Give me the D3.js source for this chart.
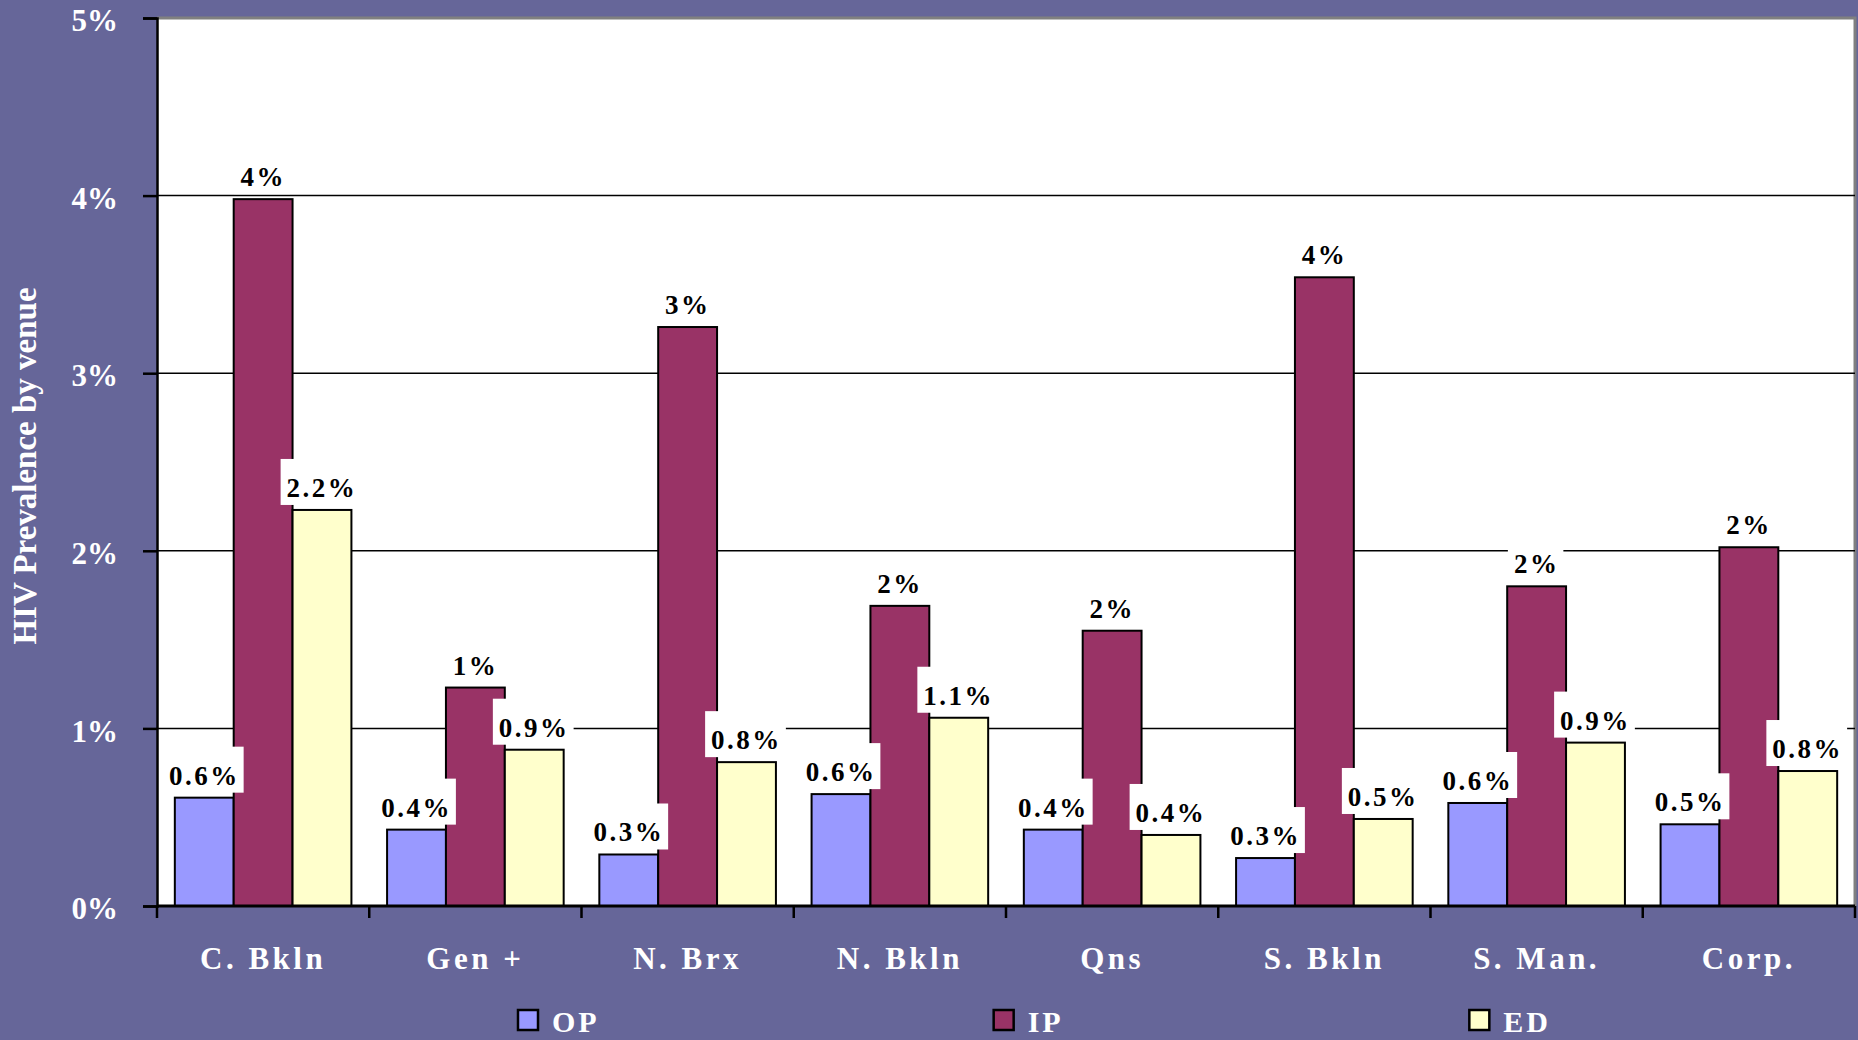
<!DOCTYPE html>
<html>
<head>
<meta charset="utf-8">
<script src="https://cdn.jsdelivr.net/npm/d3@7"></script>
<style>
  html, body { margin: 0; padding: 0; background: #666699; }
  svg { display: block; }
  text { font-family: "Liberation Serif", "Times New Roman", serif; font-weight: bold; }
</style>
</head>
<body>
<svg id="chart" width="1858" height="1040"></svg>
<script>
// data (HIV prevalence, fraction)
const categories = ["C. Bkln", "Gen +", "N. Brx", "N. Bkln", "Qns", "S. Bkln", "S. Man.", "Corp."];
const seriesNames = ["OP", "IP", "ED"];
const opValues = [0.0061, 0.0043, 0.0029, 0.0063, 0.0043, 0.0027, 0.0058, 0.0046];
const ipValues = [0.0398, 0.0123, 0.0326, 0.0169, 0.0155, 0.0354, 0.0180, 0.0202];
const edValues = [0.0223, 0.0088, 0.0081, 0.0106, 0.0040, 0.0049, 0.0092, 0.0076];
const yTicks = [0, 0.01, 0.02, 0.03, 0.04, 0.05];

const colors = { OP: "#9999ff", IP: "#993366", ED: "#ffffcc" };
// IP labels are rounded to whole percent, others to one decimal
const labelFormat = { OP: d3.format(".1%"), IP: d3.format(".0%"), ED: d3.format(".1%") };

const rows = categories.map((c, i) => ({
  category: c,
  values: [
    { key: "OP", value: opValues[i] },
    { key: "IP", value: ipValues[i] },
    { key: "ED", value: edValues[i] }
  ]
}));

const svg = d3.select("#chart");
const margin = { top: 18, right: 3, bottom: 134, left: 157 };
const W = +svg.attr("width"), H = +svg.attr("height");
const width = W - margin.left - margin.right;
const height = H - margin.top - margin.bottom;
const g = svg.append("g").attr("transform", `translate(${margin.left},${margin.top})`);

const x0 = d3.scaleBand().domain(categories).range([0, width]).padding(0);
const inset = x0.bandwidth() * 0.084;
const x1 = d3.scaleBand().domain(seriesNames).range([inset, x0.bandwidth() - inset]).padding(0);
const y = d3.scaleLinear().domain([0, 0.05]).range([height, 0]);

// plot background
g.append("rect")
  .attr("width", width).attr("height", height)
  .attr("fill", "#ffffff");

// top / right border (grey)
g.append("path")
  .attr("d", `M0,${y(0.05)}H${width}V${height}`)
  .attr("fill", "none").attr("stroke", "#808080").attr("stroke-width", 3);

// gridlines
g.selectAll(".grid")
  .data(yTicks.filter(t => t > 0 && t < 0.05))
  .enter().append("line")
  .attr("class", "grid")
  .attr("x1", 0).attr("x2", width)
  .attr("y1", d => y(d)).attr("y2", d => y(d))
  .attr("stroke", "#000").attr("stroke-width", 1.5);

// bars
const groups = g.selectAll(".group")
  .data(rows)
  .enter().append("g")
  .attr("class", "group")
  .attr("transform", d => `translate(${x0(d.category)},0)`);

groups.selectAll("rect")
  .data(d => d.values)
  .enter().append("rect")
  .attr("x", d => x1(d.key))
  .attr("y", d => y(d.value))
  .attr("width", x1.bandwidth())
  .attr("height", d => height - y(d.value))
  .attr("fill", d => colors[d.key])
  .attr("stroke", "#000")
  .attr("stroke-width", 2);

// y axis
const yAxis = d3.axisLeft(y)
  .tickValues(yTicks)
  .tickSize(14)
  .tickFormat(d3.format(".0%"));
g.append("g")
  .attr("class", "y-axis")
  .call(yAxis)
  .call(a => {
    a.select(".domain").attr("stroke", "#000").attr("stroke-width", 2.5);
    a.selectAll(".tick line").attr("stroke", "#000").attr("stroke-width", 2.5);
    a.selectAll(".tick text")
      .attr("x", -39)
      .attr("dy", "0.41em")
      .attr("fill", "#fff")
      .attr("font-size", "31px");
  });

// x axis: ticks at category boundaries
const xAxisG = g.append("g").attr("transform", `translate(0,${height})`);
xAxisG.append("line")
  .attr("x1", 0).attr("x2", width)
  .attr("stroke", "#000").attr("stroke-width", 3);
xAxisG.selectAll(".xtick")
  .data(categories.concat(["__end"]))
  .enter().append("line")
  .attr("class", "xtick")
  .attr("x1", (d, i) => i * x0.step())
  .attr("x2", (d, i) => i * x0.step())
  .attr("y1", 0).attr("y2", 12)
  .attr("stroke", "#000").attr("stroke-width", 2.5);
xAxisG.selectAll(".xlabel")
  .data(categories)
  .enter().append("text")
  .attr("class", "xlabel")
  .attr("x", d => x0(d) + x0.bandwidth() / 2)
  .attr("y", 63)
  .attr("text-anchor", "middle")
  .attr("fill", "#fff")
  .attr("font-size", "31px")
  .style("letter-spacing", "3.5px")
  .text(d => d);

// y axis title
svg.append("text")
  .attr("transform", "translate(36,466) rotate(-90)")
  .attr("text-anchor", "middle")
  .attr("fill", "#fff")
  .attr("font-size", "33px")
  .text("HIV Prevalence by venue");

// data labels with white boxes, drawn above all bars
const labelLayer = g.append("g").attr("class", "labels");
rows.forEach(r => {
  r.values.forEach(v => {
    const cx = x0(r.category) + x1(v.key) + x1.bandwidth() / 2;
    const base = y(v.value) - 13;
    const lg = labelLayer.append("g");
    const box = lg.append("rect").attr("fill", "#fff");
    const t = lg.append("text")
      .attr("x", cx)
      .attr("y", base)
      .attr("text-anchor", "middle")
      .attr("fill", "#000")
      .attr("font-size", "27px")
      .style("letter-spacing", "2.5px")
      .text(labelFormat[v.key](v.value));
    const bb = t.node().getBBox();
    box.attr("x", bb.x - 6)
      .attr("y", base - 38)
      .attr("width", bb.width + 10)
      .attr("height", 46);
  });
});

// legend
const legendX = d3.scaleBand().domain(seriesNames).range([518, 1945]);
const legend = svg.append("g").attr("class", "legend");
const items = legend.selectAll(".item")
  .data(seriesNames)
  .enter().append("g")
  .attr("class", "item")
  .attr("transform", d => `translate(${legendX(d)},1010)`);
items.append("rect")
  .attr("width", 20).attr("height", 20)
  .attr("fill", d => colors[d])
  .attr("stroke", "#000").attr("stroke-width", 2.5);
items.append("text")
  .attr("x", 34).attr("y", 22)
  .attr("fill", "#fff")
  .attr("font-size", "30px")
  .style("letter-spacing", "3px")
  .text(d => d);
</script>
</body>
</html>
